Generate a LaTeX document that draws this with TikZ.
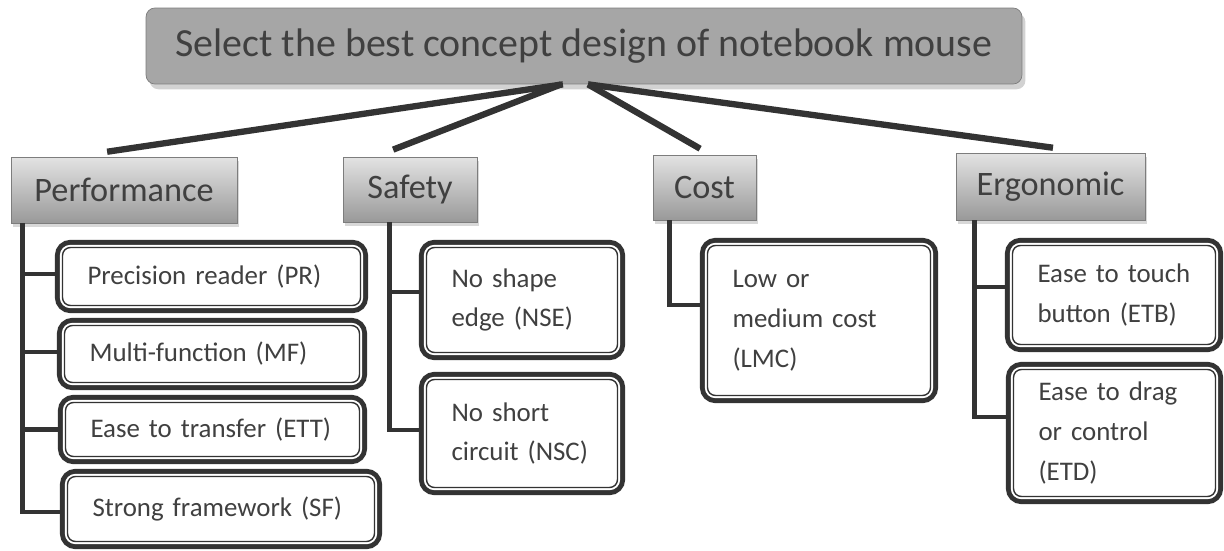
\documentclass[tikz,border=0pt]{standalone}
\usepackage{fontspec}
\setmainfont{Carlito}
\usepackage{xcolor}
\usepackage{tikz}
\usetikzlibrary{shadows, positioning}
\definecolor{mmLine}{RGB}{ 51, 51, 51}
\definecolor{mmText}{RGB}{ 64, 64, 64}
\definecolor{mmHead}{RGB}{166,166,166}
\definecolor{mmEdge}{RGB}{125,125,125}

\begin{document}
\begin{tikzpicture}[x=0.02cm, y=-0.02cm,
    goal/.style={draw=mmEdge, fill=mmHead, rounded corners=5pt, text=mmText,
                 minimum width=17.52cm, minimum height=1.52cm,
                 font=\fontsize{22.7}{27}\selectfont,
                 drop shadow={shadow xshift=2pt, shadow yshift=-3pt, fill=gray!70}},
    crit/.style={draw=mmEdge, top color=gray!22, bottom color=gray!80, text=mmText,
                 font=\fontsize{19.5}{23}\selectfont,
                 drop shadow={shadow xshift=1pt, shadow yshift=-2pt, fill=gray!60}},
    opt/.style={draw=mmLine, line width=0.8pt, fill=white, rounded corners=4.5pt,
                preaction={draw=mmLine, line width=8.6pt},
                preaction={draw=white, line width=3pt},
                outer sep=4.3pt, inner xsep=0.5cm, text=mmText,
                font=\fontsize{15.3}{22.7}\selectfont},
    stem/.style={mmLine, line width=3.6pt},
    twig/.style={mmLine, line width=2.6pt}
  ]
  \useasboundingbox (0,0) rectangle (1224,551);

  % goal
  \node[goal] (goal) at (584,46) {Select the best concept design of notebook mouse};

  % criteria
  \node[crit, minimum width=4.52cm, minimum height=1.32cm] (perf) at (124,190) {Performance};
  \node[crit, minimum width=2.68cm, minimum height=1.30cm] (safe) at (410,189.5) {Safety};
  \node[crit, minimum width=2.06cm, minimum height=1.30cm] (cost) at (704.5,187.5) {Cost};
  \node[crit, minimum width=3.78cm, minimum height=1.34cm] (ergo) at (1050.5,186.5) {Ergonomic};

  \draw[stem] ([xshift=-12pt]goal.south) -- ([xshift=-9.6pt, yshift=2.8pt]perf.north);
  \draw[stem] ([xshift=-13pt]goal.south) -- ([xshift=-9.6pt, yshift=4pt]safe.north);
  \draw[stem] ([xshift=2.3pt]goal.south) -- ([xshift=-2.5pt, yshift=3.4pt]cost.north);
  \draw[stem] ([xshift=2.3pt]goal.south) -- ([xshift=1.4pt, yshift=2.8pt]ergo.north);

  % performance options
  \node[opt, text width=4.96cm, minimum height=1.16cm] (pr) at (211.5,276.5) {Precision reader (PR)};
  \node[opt, text width=4.90cm, minimum height=1.14cm] (mf) at (212,354) {Multi-function (MF)};
  \node[opt, text width=4.88cm, minimum height=1.08cm] (ett) at (212.5,429.5) {Ease to transfer (ETT)};
  \node[opt, text width=5.14cm, minimum height=1.30cm] (sf) at (221,509) {Strong framework (SF)};
  \draw[twig] (perf.south west) ++(12,0) |- ([yshift=1.4pt]pr.west);
  \draw[twig] (perf.south west) ++(12,0) |- ([yshift=1.1pt]mf.west);
  \draw[twig] (perf.south west) ++(12,0) |- (ett.west);
  \draw[twig] (perf.south west) ++(12,0) |- ([yshift=-1.7pt]sf.west);

  % safety options
  \node[opt, text width=2.82cm, minimum height=2.10cm] (nse) at (522,300) {No shape\\edge (NSE)};
  \node[opt, text width=2.82cm, minimum height=2.16cm] (nsc) at (522,433.5) {No short\\circuit (NSC)};
  \draw[twig] (safe.south west) ++(47,0) |- ([yshift=4.5pt]nse.west);
  \draw[twig] (safe.south west) ++(47,0) |- ([yshift=2pt]nsc.west);

  % cost option
  \node[opt, text width=3.46cm, minimum height=3.00cm] (lmc) at (819,320.5) {Low or\\medium cost\\(LMC)};
  \draw[twig] (cost.south west) ++(17,0) |- ([yshift=8.8pt]lmc.west);

  % ergonomic options
  \node[opt, text width=3.06cm, minimum height=1.98cm] (etb) at (1114,295) {Ease to touch\\button (ETB)};
  \node[opt, text width=3.04cm, minimum height=2.54cm] (etd) at (1114.5,433) {Ease to drag\\or control\\(ETD)};
  \draw[twig] (ergo.south west) ++(19,0) |- ([yshift=4.5pt]etb.west);
  \draw[twig] (ergo.south west) ++(19,0) |- ([yshift=9pt]etd.west);
\end{tikzpicture}
\end{document}
